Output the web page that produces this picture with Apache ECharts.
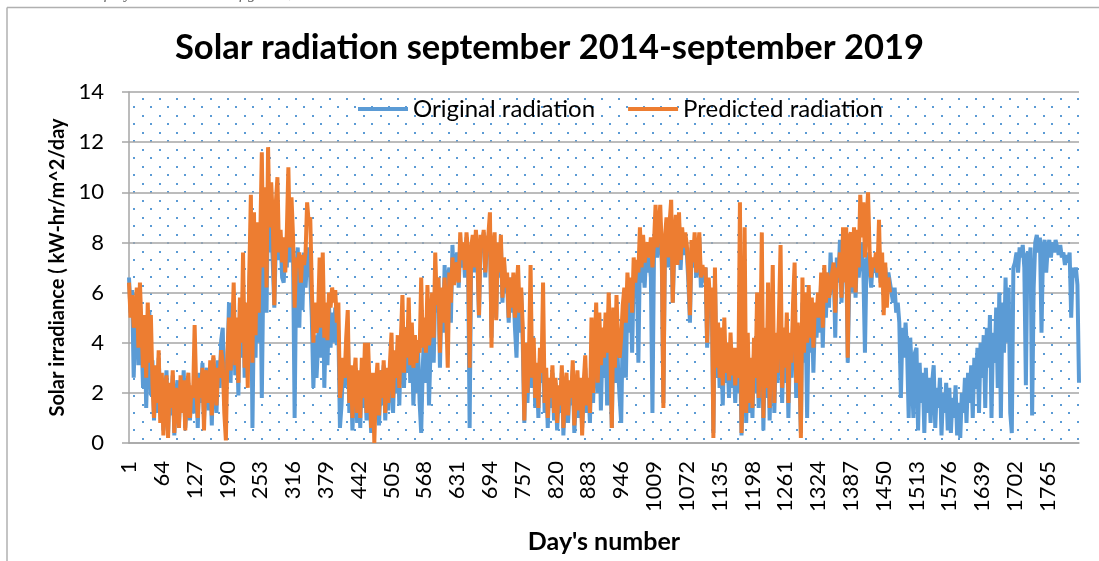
<!DOCTYPE html>
<html>
<head>
<meta charset="utf-8">
<script src="https://cdn.jsdelivr.net/npm/echarts@6/dist/echarts.min.js"></script>
<style>
  html, body { margin: 0; padding: 0; background: #fff; }
  #chart { width: 1099px; height: 561px; }
</style>
</head>
<body>
<div id="chart"></div>
<script>
// one sample every 3 days; each row = 21 samples = 63 days (one x label step)
var originalRadiation = [
  6.6,5.2,6.1,2.6,4.8,5.9,3.1,5.6,4.2,2.2,4.9,1.4,3.6,5.3,1.9,3.3,0.9,2.8,1.2,3.4,1.6,
  2.6,0.5,1.8,2.9,0.4,2.2,1.1,2.7,0.3,1.9,2.5,0.8,2.3,1.4,2.9,0.6,1.7,2.4,0.9,2.0,1.3,
  1.2,2.5,0.6,2.8,1.6,3.2,0.9,2.4,3.0,1.3,2.7,0.7,3.4,2.0,1.2,3.3,2.2,4.1,4.6,1.5,2.6,
  3.2,5.6,2.4,4.8,5.2,2.7,4.5,1.9,5.6,3.4,6.2,2.6,5.1,3.0,6.4,7.8,0.6,5.5,3.4,8.2,4.0,
  7.4,1.8,6.9,8.6,5.2,9.8,7.6,8.8,7.2,5.4,8.0,9.2,7.3,8.1,6.6,6.4,7.8,7.0,9.4,7.2,8.1,
  7.4,1.0,6.8,7.8,4.6,7.2,5.3,7.6,6.2,7.4,7.8,6.6,5.0,2.2,4.3,2.6,3.9,6.2,3.4,6.8,2.2,
  4.8,3.1,5.5,3.8,5.2,4.0,5.4,3.9,4.5,0.6,1.5,3.0,2.2,3.6,4.6,1.2,2.6,0.5,2.1,3.0,0.8,
  2.4,0.6,3.0,1.4,2.8,0.9,2.6,1.8,0.4,2.3,0.8,1.9,2.9,0.7,2.4,1.5,3.1,0.9,2.6,1.3,2.8,
  3.6,1.2,3.4,2.0,3.9,1.5,4.0,4.6,2.2,4.1,2.8,4.9,2.4,4.3,1.5,3.4,2.0,3.8,1.6,0.4,3.0,
  4.6,2.4,5.0,1.5,3.8,5.4,3.2,6.0,5.2,6.6,3.0,5.8,4.4,7.1,5.0,6.6,7.0,4.8,7.9,6.4,7.2,
  7.6,6.2,8.0,7.0,7.8,6.6,8.2,7.3,0.6,7.4,8.0,6.8,8.3,7.2,5.0,8.1,7.6,8.4,6.6,7.9,8.2,
  8.4,4.2,7.6,8.0,5.0,7.8,6.6,8.0,5.6,7.2,6.0,6.4,4.8,6.6,5.2,6.2,4.6,3.4,5.8,4.4,6.0,
  4.0,0.8,3.6,1.6,3.2,4.6,2.2,3.8,1.4,2.9,1.0,3.4,2.4,3.6,1.2,2.6,0.6,2.2,1.4,2.8,0.9,
  2.4,0.5,2.0,1.2,2.8,0.3,1.8,2.5,0.8,2.2,1.5,2.9,0.4,1.7,2.6,1.0,2.3,0.6,2.0,3.0,1.2,
  2.2,0.8,3.6,1.6,3.4,4.2,2.0,4.4,1.3,3.8,2.6,4.6,1.5,5.2,3.2,0.6,4.6,2.4,5.0,3.0,1.8,
  0.8,4.6,5.4,2.6,6.0,4.4,6.2,3.6,6.6,5.8,7.0,3.2,7.6,6.4,7.2,6.2,7.6,6.8,7.4,6.6,1.2,
  7.6,8.6,7.4,8.0,8.8,7.2,1.6,7.8,8.2,7.0,8.6,9.0,5.6,7.8,8.4,7.2,8.8,6.9,8.2,7.5,8.0,
  7.6,6.4,4.8,7.8,7.0,8.0,6.6,7.4,8.2,6.2,6.8,6.4,7.0,3.8,6.2,5.0,5.8,0.4,6.6,2.6,4.4,
  2.2,3.8,1.5,4.0,2.4,3.4,1.8,3.6,2.2,3.0,1.6,3.4,2.0,4.2,0.3,2.4,5.4,0.8,3.6,1.2,2.8,
  1.0,3.6,2.0,4.2,1.4,3.0,5.2,0.5,3.8,1.8,4.4,0.9,3.2,5.0,1.2,3.6,2.4,4.6,5.4,1.6,3.8,
  2.4,4.6,1.0,3.8,2.6,4.8,5.6,1.8,4.2,3.0,0.4,5.6,3.2,5.2,1.0,4.8,3.6,5.4,2.8,5.0,4.2,
  5.6,4.4,6.6,3.8,6.2,5.0,6.8,5.4,7.6,6.0,7.0,4.2,7.4,6.4,8.1,5.6,7.2,6.6,7.6,3.2,6.4,
  7.4,6.0,7.8,5.8,7.6,6.6,7.4,8.0,6.8,3.6,7.2,7.6,7.0,6.2,7.2,6.8,7.0,6.6,7.8,6.4,7.0,
  6.4,7.0,6.2,6.8,6.4,6.0,5.6,6.2,5.2,5.6,4.8,1.8,4.6,3.4,4.8,3.6,1.0,4.2,2.8,1.0,3.6,
  3.8,0.5,3.2,1.6,2.8,0.4,3.0,1.2,2.6,0.8,2.4,3.1,0.6,2.2,1.4,2.6,0.3,2.0,1.2,2.4,0.5,
  2.2,0.4,1.8,1.0,2.3,0.3,1.6,0.2,2.0,1.2,2.6,0.8,2.8,1.6,3.1,1.0,3.4,2.2,3.8,1.2,4.0,
  2.6,4.3,1.4,4.6,3.0,5.1,1.0,4.4,3.2,5.4,2.2,6.0,1.0,5.6,3.6,6.6,4.0,6.2,1.2,0.4,7.0,
  7.2,7.6,6.8,7.8,7.4,7.9,7.0,2.3,7.6,7.2,7.8,1.1,6.2,8.0,8.3,7.6,8.2,4.4,7.8,8.1,6.8,
  7.8,8.1,7.4,8.0,7.6,8.1,7.8,7.5,7.9,7.4,7.6,7.1,7.5,7.2,7.6,5.0,7.0,6.6,7.0,6.3,2.4
];
var predictedRadiation = [
  6.4,5.0,5.9,4.6,5.2,6.2,3.8,6.4,4.6,3.0,5.1,2.6,5.6,3.2,5.1,2.4,1.0,3.1,1.6,3.7,0.8,
  2.8,0.3,2.0,2.7,0.2,2.4,1.4,2.9,0.4,2.2,1.6,0.6,2.7,1.2,2.5,0.5,2.1,2.8,1.0,2.3,1.8,
  4.7,2.2,1.0,2.6,1.8,3.0,0.5,2.9,2.6,1.6,3.3,1.1,3.5,2.3,1.5,3.0,2.6,3.7,3.2,1.2,0.1,
  3.6,5.0,2.9,4.2,6.4,3.1,5.0,2.4,5.8,4.0,7.6,3.0,5.6,2.2,6.8,9.9,3.2,9.2,4.3,8.8,5.2,
  8.2,11.6,7.0,10.2,6.2,11.8,8.6,10.4,9.0,5.5,9.6,10.6,7.6,8.5,7.2,8.2,6.8,8.4,11.0,7.8,9.8,
  8.2,5.4,7.4,7.0,7.6,6.4,7.5,7.1,7.6,9.6,8.8,9.0,6.2,4.0,5.6,4.4,5.0,7.4,4.6,7.6,4.2,
  5.6,4.1,6.0,5.4,6.2,5.6,6.1,4.8,5.6,1.8,2.4,3.4,2.6,4.2,5.3,1.6,3.1,1.0,2.6,3.4,1.2,
  2.9,1.0,3.4,1.8,4.0,1.2,4.0,2.2,0.6,2.8,0.0,2.3,3.2,1.1,2.9,1.8,3.3,1.2,3.0,1.6,3.2,
  4.4,1.8,3.7,2.6,4.3,2.2,4.2,5.9,2.8,4.6,3.4,5.8,3.1,4.8,3.0,4.3,3.2,4.1,3.6,6.6,3.8,
  5.0,3.6,6.3,3.9,4.6,6.0,4.2,7.6,5.5,6.6,3.6,6.2,4.8,6.6,5.2,3.0,6.8,5.6,7.4,6.3,7.0,
  7.2,6.4,8.4,7.3,8.0,6.9,8.4,7.6,3.0,7.8,8.3,7.0,8.5,7.5,5.1,8.3,7.8,8.5,6.8,8.0,8.3,
  9.2,3.8,7.8,8.4,4.9,8.0,6.8,8.3,5.8,7.4,6.2,6.8,5.0,6.6,5.4,6.8,5.0,6.0,7.1,5.2,6.2,
  4.6,0.9,4.0,2.0,3.6,7.1,2.6,4.2,1.8,3.2,1.4,3.8,2.8,6.4,1.6,3.0,1.0,2.6,1.8,3.1,1.2,
  2.6,0.8,2.3,1.5,3.1,0.6,2.1,2.8,1.1,2.5,1.8,3.3,0.7,2.0,2.9,1.3,2.6,0.3,2.4,3.5,1.5,
  2.6,1.2,5.0,2.0,3.8,5.6,2.4,5.2,3.1,4.6,3.4,5.2,3.6,6.0,4.2,0.6,5.4,3.0,5.9,4.0,3.4,
  4.2,5.5,6.2,4.8,6.8,5.6,6.6,5.2,7.4,6.4,7.3,6.8,8.6,7.0,8.3,7.2,7.8,8.0,7.4,8.2,7.0,
  8.0,9.5,7.8,8.6,9.5,7.6,1.4,8.2,9.0,7.4,8.8,9.7,5.6,8.2,9.1,7.1,9.2,7.3,8.6,7.8,8.4,
  7.9,6.8,5.1,8.1,7.2,8.4,6.8,7.6,8.4,6.6,7.1,6.7,7.0,4.0,6.6,5.4,6.2,0.2,7.0,3.0,4.8,
  2.6,4.6,2.3,5.0,2.8,4.0,2.5,4.4,2.7,3.8,2.3,3.8,2.6,9.6,0.4,2.8,8.6,1.2,4.4,1.6,3.4,
  1.4,4.2,2.6,6.0,1.8,3.6,8.4,1.0,4.6,2.2,6.4,1.4,3.8,7.1,1.6,4.4,2.8,5.2,7.9,2.2,4.6,
  3.0,5.2,1.6,4.4,3.2,5.6,7.2,2.4,4.8,3.6,0.2,6.6,3.6,6.0,4.0,6.3,4.2,5.8,3.8,5.6,5.0,
  6.0,5.0,6.8,4.6,7.1,5.6,6.8,5.8,6.2,6.8,7.2,5.2,7.0,6.6,7.6,5.8,8.6,6.4,8.6,3.4,8.2,
  8.4,6.2,8.6,6.0,8.5,7.0,9.9,8.2,9.6,7.4,8.8,10.0,7.6,6.6,7.4,7.0,7.6,6.8,8.9,6.2,7.6,
  5.1,7.2,5.4,6.6,6.0
];
var dayStep = 3;
var days = [];
for (var i = 0; i < originalRadiation.length; i++) {
  days.push(String(1 + i * dayStep));
}

var FONT = 'Lato';

// dotted plot-area fill, like the Excel pattern
var tile = document.createElement('canvas');
tile.width = 17;
tile.height = 17;
var ctx = tile.getContext('2d');
ctx.fillStyle = '#5b9bd5';
ctx.fillRect(6, 13, 2, 2);
ctx.fillRect(14, 4, 2, 2);

var chart = echarts.init(document.getElementById('chart'));
chart.setOption({
  animation: false,
  textStyle: { fontFamily: FONT, color: '#000' },
  title: {
    text: 'Solar radiation september 2014-september 2019',
    left: 'center',
    top: 25,
    padding: [5, 5, 5, 23],
    textStyle: { fontFamily: FONT, fontSize: 34.5, fontWeight: 'bold', color: '#000' }
  },
  legend: {
    left: 353,
    top: 92,
    icon: 'rect',
    itemWidth: 50,
    itemHeight: 4,
    itemGap: 33,
    textStyle: { fontFamily: FONT, fontSize: 24, color: '#000', padding: [0, 0, 0, 0] },
    data: ['Original radiation', 'Predicted radiation']
  },
  grid: {
    left: 129,
    right: 20,
    top: 92,
    bottom: 118,
    show: true,
    borderWidth: 0,
    backgroundColor: { image: tile, repeat: 'repeat' }
  },
  xAxis: {
    type: 'category',
    data: days,
    boundaryGap: false,
    axisLine: { lineStyle: { color: '#a6a6a6', width: 1.5 } },
    axisTick: { show: false },
    axisLabel: { interval: 20, rotate: 90, fontSize: 22, margin: 18, color: '#000', fontFamily: FONT },
    name: "Day's number",
    nameLocation: 'middle',
    nameGap: 86,
    nameTextStyle: { fontFamily: FONT, fontSize: 25, fontWeight: 'bold', color: '#000' }
  },
  yAxis: {
    type: 'value',
    min: 0,
    max: 14,
    interval: 2,
    axisLine: { show: true, lineStyle: { color: '#a6a6a6', width: 1.5 } },
    axisTick: { show: true, length: 7, lineStyle: { color: '#a6a6a6', width: 1.5 } },
    axisLabel: { fontSize: 22, margin: 25, color: '#000', fontFamily: FONT },
    splitLine: { lineStyle: { color: '#a6a6a6', width: 1.5 } },
    name: 'Solar irradiance ( kW-hr/m^2/day',
    nameLocation: 'middle',
    nameGap: 61,
    nameTextStyle: { fontFamily: FONT, fontSize: 20, fontWeight: 'bold', color: '#000' }
  },
  graphic: [
    { type: 'line', shape: { x1: 7, y1: 7.5, x2: 1099, y2: 7.5 }, style: { stroke: '#b0b0b0', lineWidth: 1.5 } },
    { type: 'line', shape: { x1: 7, y1: 7.5, x2: 7, y2: 561 }, style: { stroke: '#b0b0b0', lineWidth: 1.5 } },
    {
      type: 'text', left: 0, top: -14,
      style: { text: 'radiation data of 5 years is shown in figure 3, 5.', fill: '#666', font: 'italic 16px "Liberation Serif"' }
    }
  ],
  series: [
    {
      name: 'Original radiation',
      type: 'line',
      data: originalRadiation,
      showSymbol: false,
      symbol: 'none',
      color: '#5b9bd5',
      lineStyle: { width: 4, color: '#5b9bd5' }
    },
    {
      name: 'Predicted radiation',
      type: 'line',
      data: predictedRadiation,
      showSymbol: false,
      symbol: 'none',
      color: '#ed7d31',
      lineStyle: { width: 4, color: '#ed7d31' }
    }
  ]
});
</script>
</body>
</html>
